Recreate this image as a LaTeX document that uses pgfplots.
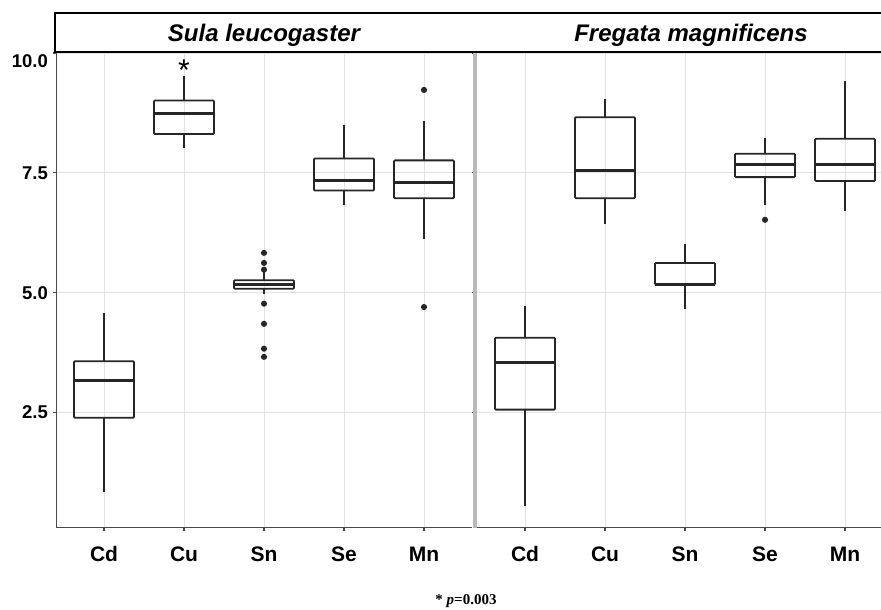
\documentclass[border=0pt]{standalone}
\usepackage{fontspec}
\setmainfont{Liberation Sans}
\newfontfamily\footfont{Liberation Serif}
\usepackage{pgfplots}
\pgfplotsset{compat=1.18}
\usepgfplotslibrary{statistics}

\definecolor{gridc}{HTML}{E2E2E2}
\definecolor{spine}{HTML}{4A4A4A}
\definecolor{boxc}{HTML}{262626}

\pgfplotsset{
  facet/.style={
    scale only axis,
    height=475pt,
    ymin=0.09, ymax=10.0,
    xmin=0.4,
    xtick={1,2,3,4,5},
    xticklabels={Cd,Cu,Sn,Se,Mn},
    ytick={2.5,5,7.5},
    yticklabels={2.5,5.0,7.5},
    extra y ticks={10},
    extra y tick labels={10.0},
    extra y tick style={yticklabel style={yshift=-8pt}},
    grid=major,
    major grid style={draw=gridc, line width=0.9pt},
    axis line style={draw=none},
    tick align=outside,
    major tick length=3pt,
    tick style={draw=spine, line width=1.1pt},
    xticklabel style={font=\bfseries\fontsize{21}{24}\selectfont, inner sep=0pt, anchor=base, yshift=-31pt},
    yticklabel style={font=\bfseries\fontsize{18.5}{22}\selectfont, inner sep=0pt, xshift=-5pt},
    boxplot/draw direction=y,
    boxplot/box extend=0.75,
    boxplot/whisker extend=0,
    boxplot/every median/.style={line width=3pt},
  },
  bx/.style={draw=boxc, line width=1.8pt, solid, rounded corners=1pt, mark=*, mark size=2.1pt,
    mark options={fill=boxc, draw=none, sharp corners}},
}

\begin{document}
\begin{tikzpicture}
\useasboundingbox (0,0) rectangle (881pt,610pt);

% Sula leucogaster
\begin{axis}[facet, at={(56pt,82pt)}, anchor=south west, width=416pt, xmax=5.6]
\addplot[bx, boxplot prepared={draw position=1, lower whisker=0.85, lower quartile=2.39, median=3.17, upper quartile=3.57, upper whisker=4.58}] coordinates {};
\addplot[bx, boxplot prepared={draw position=2, lower whisker=8.02, lower quartile=8.31, median=8.73, upper quartile=9.01, upper whisker=9.53}] coordinates {};
\addplot[bx, boxplot prepared={draw position=3, lower whisker=4.98, lower quartile=5.08, median=5.17, upper quartile=5.26, upper whisker=5.43}]
  coordinates {(0,5.83) (0,5.62) (0,5.48) (0,4.77) (0,4.35) (0,3.83) (0,3.66)};
\addplot[bx, boxplot prepared={draw position=4, lower whisker=6.82, lower quartile=7.13, median=7.34, upper quartile=7.80, upper whisker=8.49}] coordinates {};
\addplot[bx, boxplot prepared={draw position=5, lower whisker=6.12, lower quartile=6.97, median=7.29, upper quartile=7.76, upper whisker=8.59}]
  coordinates {(0,9.23) (0,4.70)};
\node[anchor=base, font=\fontsize{30}{30}\selectfont] at (axis cs:2,9.43) {*};
\draw[spine, line width=1.3pt] (rel axis cs:0,1) -- (rel axis cs:0,0) -- (rel axis cs:1,0);
\end{axis}

% Fregata magnificens
\begin{axis}[facet, at={(477pt,82pt)}, anchor=south west, width=404pt, xmax=5.45,
  yticklabels={}, extra y tick labels={}, ytick style={draw=none}]
\addplot[bx, boxplot prepared={draw position=1, lower whisker=0.55, lower quartile=2.56, median=3.54, upper quartile=4.06, upper whisker=4.72}] coordinates {};
\addplot[bx, boxplot prepared={draw position=2, lower whisker=6.44, lower quartile=6.97, median=7.55, upper quartile=8.66, upper whisker=9.04}] coordinates {};
\addplot[bx, boxplot prepared={draw position=3, lower whisker=4.65, lower quartile=5.17, median=5.18, upper quartile=5.62, upper whisker=6.02}] coordinates {};
\addplot[bx, boxplot prepared={draw position=4, lower whisker=6.83, lower quartile=7.41, median=7.67, upper quartile=7.90, upper whisker=8.23}]
  coordinates {(0,6.52)};
\addplot[bx, boxplot prepared={draw position=5, lower whisker=6.71, lower quartile=7.33, median=7.67, upper quartile=8.21, upper whisker=9.42}] coordinates {};
\draw[spine, line width=1.3pt] (rel axis cs:0,0) -- (rel axis cs:1,0);
\end{axis}

% panel separator
\fill[gray!55] (472.5pt,82pt) rectangle (476.5pt,557pt);

% facet strips
\draw[black, line width=2pt, fill=white] (55pt,557.5pt) rectangle (895pt,597pt);
\node[anchor=base, font=\bfseries\itshape\fontsize{24}{28}\selectfont] at (264pt,568.5pt) {Sula leucogaster};
\node[anchor=base, font=\bfseries\itshape\fontsize{24}{28}\selectfont] at (691pt,568.5pt) {Fregata magnificens};

% footnote
\node[font=\footfont\bfseries\fontsize{15}{18}\selectfont] at (466pt,9pt) {* \textit{p}=0.003};
\end{tikzpicture}
\end{document}
